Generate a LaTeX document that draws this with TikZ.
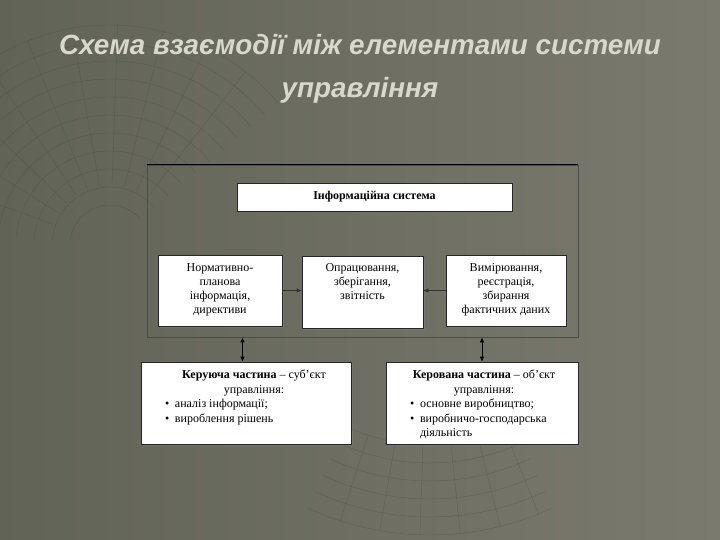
\documentclass[tikz,border=0pt]{standalone}
\usepackage{fontspec}
\setmainfont{Liberation Serif}
\newfontfamily\titlefont{Liberation Sans}
\usetikzlibrary{positioning,arrows.meta,shadows}

\definecolor{bgleft}{RGB}{98,99,87}
\definecolor{bgright}{RGB}{122,123,110}
\definecolor{titlegray}{RGB}{216,217,203}
\definecolor{gridline}{RGB}{70,71,61}

% bullet line with hanging indent
\newcommand{\punkt}[1]{\par\hangindent=10pt\hangafter=1\noindent\makebox[10pt][l]{\textbullet}#1}

\begin{document}
\begin{tikzpicture}[x=1pt,y=-1pt,
    whitebox/.style={draw=black!85, fill=white, line width=0.6pt, inner sep=0pt,
      drop shadow={shadow xshift=1.5pt, shadow yshift=-1.5pt, opacity=0.45}},
    boxfont/.style={font=\fontsize{12}{14}\selectfont},
    lowfont/.style={font=\fontsize{12}{14.6}\selectfont},
    frame/.style={draw=black!70, line width=0.8pt, inner sep=0pt},
    flow/.style={draw=black!80, line width=0.7pt, -{Latex[length=5pt,width=4.5pt]}},
    both/.style={draw=black, line width=0.7pt, {Latex[length=5pt,width=4.5pt]}-{Latex[length=5pt,width=4.5pt]}},
    gridln/.style={draw=gridline, line width=0.4pt, opacity=0.35},
    heading/.style={text=titlegray, font=\titlefont\bfseries\itshape\fontsize{27.8}{30}\selectfont}]

  % background
  \shade[left color=bgleft, right color=bgright] (0,0) rectangle (720,540);
  \useasboundingbox (0,0) rectangle (720,540);

  % faint grid of the slide
  \foreach \r in {40,58,...,220}
    \draw[gridln] ([shift={(185:\r)}]110,245) arc[start angle=185, end angle=320, radius=\r];
  \foreach \a in {200,212,...,310}
    \draw[gridln] ([shift={(\a:60)}]110,245) -- ([shift={(\a:220)}]110,245);
  \foreach \r in {200,218,...,290}
    \draw[gridln] ([shift={(65:\r)}]430,245) arc[start angle=65, end angle=115, radius=\r];
  \foreach \a in {68,76,...,112}
    \draw[gridln] ([shift={(\a:200)}]430,245) -- ([shift={(\a:290)}]430,245);

  % title
  \node[heading] (title1) at (360,45) {Схема взаємодії між елементами системи};
  \node[heading] (title2) at (360,90) {управління};

  % outer frame
  \node[frame, minimum width=431pt, minimum height=172pt] (sys) at (362.5,251) {};
  \draw[line width=1.6pt, black] (sys.north west) -- (sys.north east);

  % boxes
  \node[whitebox, boxfont, minimum width=275pt, minimum height=28pt] (info) at (374.5,197)
    {\textbf{Інформаційна система}};

  \node[whitebox, boxfont] (norm) at (220,290.5)
    {\parbox[c][71pt][t]{124pt}{\vspace*{8.5pt}\centering Нормативно-\\планова\\інформація,\\директиви}};
  \node[whitebox, boxfont] (proc) at (362.5,292)
    {\parbox[c][72pt][t]{121pt}{\vspace*{8pt}\centering Опрацювання,\\зберігання,\\звітність}};
  \node[whitebox, boxfont] (meas) at (506,290.5)
    {\parbox[c][71pt][t]{120pt}{\vspace*{8.5pt}\centering Вимірювання,\\реєстрація,\\збирання\\фактичних даних}};

  \node[whitebox, lowfont] (ctrl) at (246,403)
    {\parbox[c][82pt][t]{210pt}{\vspace*{8pt}\leftskip=16pt plus 1fil\rightskip=0pt plus 1fil
      \parfillskip=0pt \textbf{Керуюча частина} – суб’єкт\par управління:\par
      \leftskip=24pt\rightskip=4pt plus 1fil\parfillskip=0pt plus 1fil
      \punkt{аналіз інформації;}\punkt{вироблення рішень}\par}};
  \node[whitebox, lowfont] (obj) at (482,403)
    {\parbox[c][82pt][t]{192pt}{\vspace*{8pt}\leftskip=4pt plus 1fil\rightskip=0pt plus 1fil
      \parfillskip=0pt \textbf{Керована частина} – об’єкт\par управління:\par
      \leftskip=24pt\rightskip=4pt plus 1fil\parfillskip=0pt plus 1fil
      \punkt{основне виробництво;}\punkt{виробничо-господарська\newline діяльність}\par}};

  % arrows
  \draw[flow] (norm.east) -- (norm.east -| proc.west);
  \draw[flow] (meas.west) -- (meas.west -| proc.east);
  \draw[both] (sys.south -| 242.5,0) -- ([xshift=-3.5pt]ctrl.north);
  \draw[both] (sys.south -| obj.north) -- (obj.north);

\end{tikzpicture}
\end{document}
